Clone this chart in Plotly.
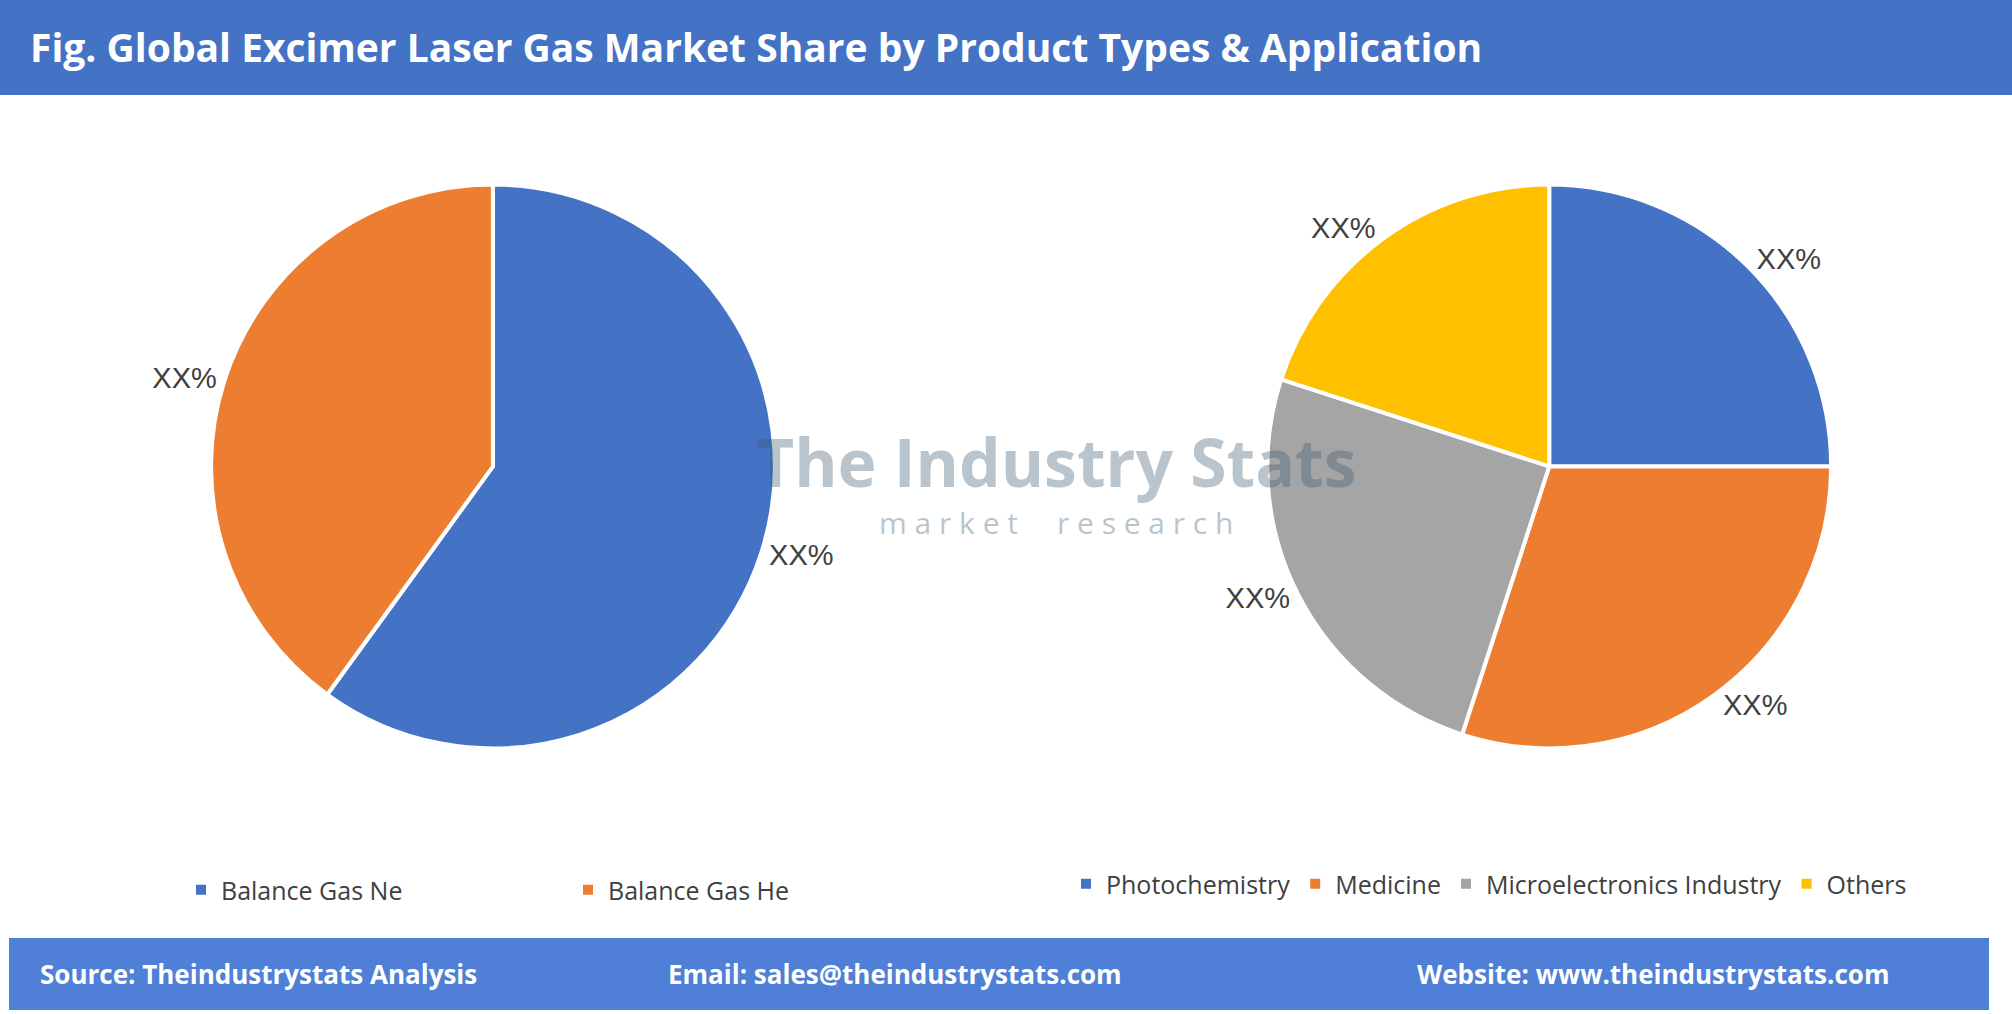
import plotly.graph_objects as go

# Product types (left pie)
type_labels = ["Balance Gas Ne", "Balance Gas He"]
type_values = [60, 40]
type_colors = ["#4472C4", "#ED7D31"]

# Applications (right pie)
app_labels = ["Photochemistry", "Medicine", "Microelectronics Industry", "Others"]
app_values = [25, 30, 25, 20]
app_colors = ["#4472C4", "#ED7D31", "#A5A5A5", "#FFC000"]

W, H = 2012, 1014

fig = go.Figure()

label_font = dict(size=29, color="#404040", family="Liberation Sans Narrow, Liberation Sans")

fig.add_trace(go.Pie(
    labels=type_labels, values=type_values, sort=False, direction="clockwise",
    rotation=0, marker=dict(colors=type_colors, line=dict(color="white", width=4)),
    texttemplate="XX%", textposition="outside", outsidetextfont=label_font,
    domain=dict(x=[0.07, 0.42], y=[0.262, 0.818]), legend="legend",
))
fig.add_trace(go.Pie(
    labels=app_labels, values=app_values, sort=False, direction="clockwise",
    rotation=0, marker=dict(colors=app_colors, line=dict(color="white", width=4)),
    texttemplate="XX%", textposition="outside", outsidetextfont=label_font,
    domain=dict(x=[0.595, 0.945], y=[0.262, 0.818]), legend="legend2",
))

shapes = [
    dict(type="rect", xref="paper", yref="paper", x0=0, x1=1, y0=1 - 95 / H, y1=1,
         fillcolor="#4472C4", line=dict(width=0), layer="below"),
    dict(type="rect", xref="paper", yref="paper", x0=9 / W, x1=1989 / W, y0=4 / H, y1=76 / H,
         fillcolor="#4F7FD6", line=dict(width=0), layer="below"),
]

bold = dict(size=26, color="white", family="Open Sans", weight="bold")
annotations = [
    dict(text="Fig. Global Excimer Laser Gas Market Share by Product Types & Application",
         x=28 / W, y=1 - 46 / H, xref="paper", yref="paper", xanchor="left", yanchor="middle",
         showarrow=False, font=dict(size=39, color="white", family="Open Sans", weight="bold")),
    dict(text="Source: Theindustrystats Analysis", x=38 / W, y=40 / H, xref="paper", yref="paper",
         xanchor="left", yanchor="middle", showarrow=False, font=bold),
    dict(text="Email: sales@theindustrystats.com", x=666 / W, y=40 / H, xref="paper", yref="paper",
         xanchor="left", yanchor="middle", showarrow=False, font=bold),
    dict(text="Website: www.theindustrystats.com", x=1415 / W, y=40 / H, xref="paper", yref="paper",
         xanchor="left", yanchor="middle", showarrow=False, font=bold),
    dict(text="The Industry Stats", x=0.525, y=0.545, xref="paper", yref="paper", showarrow=False,
         opacity=0.35, font=dict(size=66, color="#3a5a70", family="Open Sans", weight="bold")),
    dict(text="m a r k e t     r e s e a r c h", x=0.525, y=0.485, xref="paper", yref="paper",
         showarrow=False, opacity=0.35, font=dict(size=30, color="#3a5a70", family="Open Sans")),
]

legend_font = dict(size=25, color="#404040", family="Open Sans")
fig.update_layout(
    width=W, height=H, margin=dict(l=0, r=0, t=0, b=0),
    paper_bgcolor="white", plot_bgcolor="white",
    shapes=shapes, annotations=annotations,
    legend=dict(orientation="h", x=181 / W, y=1 - 890 / H, xanchor="left", yanchor="middle",
                font=legend_font, entrywidth=342, itemsizing="constant"),
    legend2=dict(orientation="h", x=1066 / W, y=1 - 884 / H, xanchor="left", yanchor="middle",
                 font=legend_font, itemsizing="constant"),
)

fig.write_html("out.html", config={"displayModeBar": False},
               post_script="document.body.style.margin='0px';")
